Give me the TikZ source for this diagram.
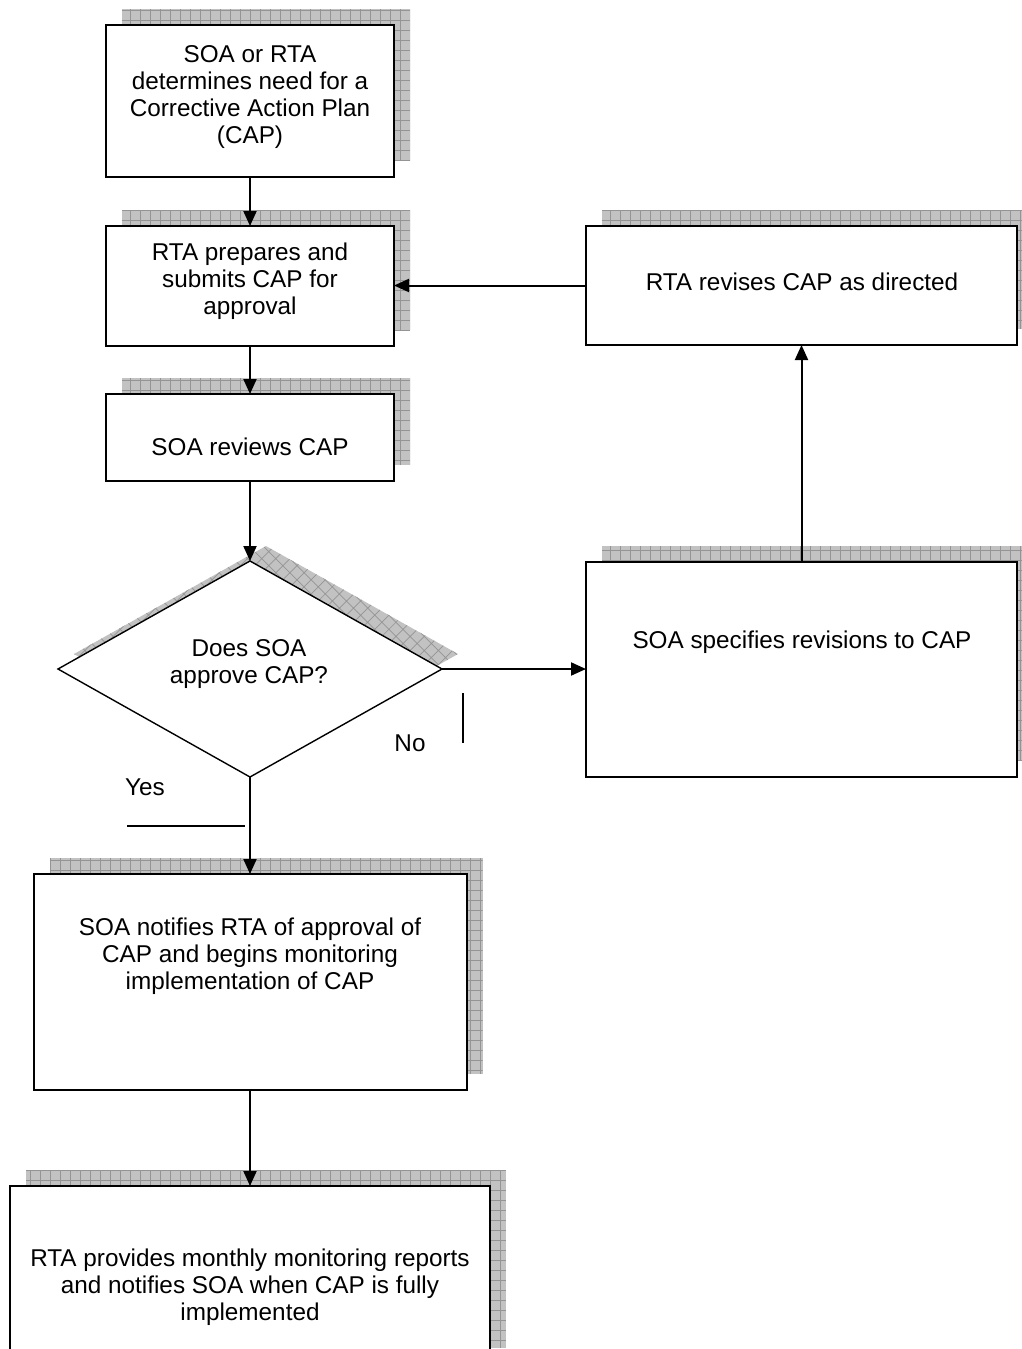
\documentclass[tikz,border=0pt]{standalone}
\usepackage{fontspec}
\setmainfont{Liberation Sans}
\usetikzlibrary{arrows.meta,shapes.geometric,backgrounds,calc}
\begin{document}
\begin{tikzpicture}[x=1pt,y=-1pt,
  box/.style={draw=black, line width=2pt, fill=white, rectangle, inner sep=0pt, outer sep=0pt},
  decision/.style={draw=black, line width=1.4pt, fill=white, diamond, inner sep=0pt, outer sep=0pt},
  txt/.style={align=center, font=\fontsize{24.3}{27.2}\selectfont, inner sep=0pt},
  conn/.style={draw=black, line width=2pt, -{Triangle[length=15pt,width=13pt]}},
  plainline/.style={draw=black, line width=1.3pt},
  shadowfill/.style={fill=black!24},
  shadowgrid/.style={draw=black!42, line width=0.7pt},
]
\useasboundingbox (0,0) rectangle (1021,1349);

% boxes
\node[box, minimum width=288pt, minimum height=152pt] (b1) at (250,101) {};
\node[box, minimum width=288pt, minimum height=120pt] (b2) at (250,286) {};
\node[box, minimum width=288pt, minimum height=87pt] (b3) at (250,437.5) {};
\node[decision, minimum width=384pt, minimum height=216pt] (d) at (250,669) {};
\node[box, minimum width=431pt, minimum height=119pt] (r1) at (801.5,285.5) {};
\node[box, minimum width=431pt, minimum height=215pt] (r2) at (801.5,669.5) {};
\node[box, minimum width=433pt, minimum height=216pt] (b4) at (250,982) {};
\node[box, minimum width=480pt, minimum height=178pt] (b5) at (250,1275) {};

% texts
\node[txt] (t1) at (250,97) {SOA or RTA\\determines need for a\\Corrective Action Plan\\(CAP)};
\node[txt] (t2) at (250,281) {RTA prepares and\\submits CAP for\\approval};
\node[txt] (t3) at (250,447) {SOA reviews CAP};
\node[txt] (td) at (249,664) {Does SOA\\approve CAP?};
\node[txt] (tr1) at (802,282) {RTA revises CAP as directed};
\node[txt] (tr2) at (802,642) {SOA specifies revisions to CAP};
\node[txt] (t4) at (250,956) {SOA notifies RTA of approval of\\CAP and begins monitoring\\implementation of CAP};
\node[txt] (t5) at (250,1287) {RTA provides monthly monitoring reports\\and notifies SOA when CAP is fully\\implemented};
\node[txt] (no) at (410,743) {No};
\node[txt] (yes) at (145,787) {Yes};

% connectors
\draw[conn] (b1.south) -- (b2.north);
\draw[conn] (b2.south) -- (b3.north);
\draw[conn] (b3.south) -- (d.north);
\draw[conn] (d.south) -- (b4.north);
\draw[conn] (b4.south) -- (b5.north);
\draw[conn] (d.east) -- (d.east -| r2.west);
\draw[conn] (r2.north) -- (r1.south);
\draw[conn] (r1.west) -- (r1.west -| b2.east);

% stray lines
\coordinate (nl1) at (463,693);
\coordinate (nl2) at (463,743);
\coordinate (yl1) at (127,826);
\coordinate (yl2) at (245,826);
\draw[plainline] (nl1) -- (nl2);
\draw[plainline] (yl1) -- (yl2);

% shadows
\begin{scope}[on background layer]
\foreach \n in {b1,b2,b3,r1,r2,b4,b5} {
  \fill[shadowfill] ($(\n.north west)+(16,-16)$) rectangle ($(\n.south east)+(16,-16)$);
  \begin{scope}
    \clip ($(\n.north west)+(16,-16)$) rectangle ($(\n.south east)+(16,-16)$);
    \draw[shadowgrid, step=10pt] ($(\n.north west)+(16,-16)$) grid ($(\n.south east)+(16,-16)$);
  \end{scope}
}
\fill[shadowfill] ($(d.north)+(16,-15)$) -- ($(d.east)+(16,-15)$) -- ($(d.south)+(16,-15)$) -- ($(d.west)+(16,-15)$) -- cycle;
\begin{scope}
  \clip ($(d.north)+(16,-15)$) -- ($(d.east)+(16,-15)$) -- ($(d.south)+(16,-15)$) -- ($(d.west)+(16,-15)$) -- cycle;
  \draw[shadowgrid, step=10pt, rotate=45] ($(d.west)+(-200,-200)$) grid ($(d.east)+(200,200)$);
\end{scope}
\end{scope}
\end{tikzpicture}
\end{document}
